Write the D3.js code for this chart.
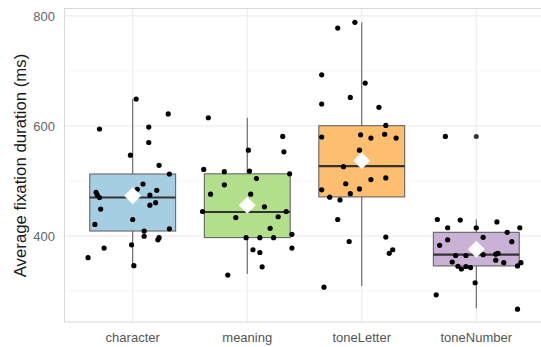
<!DOCTYPE html>
<html><head><meta charset="utf-8">
<script src="https://cdn.jsdelivr.net/npm/d3@7"></script>
<style>body{margin:0;background:#fff}svg{display:block}</style>
</head><body>
<svg id="c" width="541" height="347"></svg>
<script>
const categories = ["character","meaning","toneLetter","toneNumber"];
const fills = ["#a6cee3","#b2df8a","#fdbf6f","#cab2d6"];
// box statistics
const q1 = [409, 397, 471, 345.5];
const median = [470, 443.6, 527, 366];
const q3 = [512.7, 513, 600.5, 406.7];
const whiskLow = [346, 331, 309, 268.5];
const whiskHigh = [649, 615, 788.5, 430];
const means = [473, 456, 537, 376];
const outliers = [[], [], [], [581]];
const yTicks = [400, 600, 800];
const yMinor = [300, 500, 700];
// jittered points: [offset in category units, value]
const ptsCharacter = [[0.03,649],[0.31,622],[-0.29,594.5],[0.14,598],[0.14,570],[-0.02,547],[0.23,528.5],[0.32,512.7],[0.09,494.5],[0.04,485],[0.21,483],[-0.32,479.5],[-0.31,475],[-0.29,470],[0.15,474.5],[0.20,460.6],[0.15,456],[-0.28,449],[0.00,430],[-0.33,421],[0.32,413],[0.10,409],[0.10,399.5],[0.23,397],[0.22,393],[-0.01,384],[-0.25,378],[-0.39,360.5],[0.01,346]];
const ptsMeaning = [[-0.34,615],[0.31,581],[0.01,556],[0.32,553],[-0.38,521],[-0.20,517],[0.02,518],[0.37,513],[0.08,504.5],[-0.20,493],[-0.32,476],[0.03,476],[0.15,453],[-0.39,444.5],[0.34,444.5],[-0.10,433.5],[0.27,435],[0.20,414],[-0.01,397],[0.11,397],[0.23,397],[0.39,403],[0.05,375],[0.11,370],[0.39,378],[0.13,344],[-0.17,329]];
const ptsToneLetter = [[-0.06,788.5],[-0.21,778],[-0.35,693],[0.03,678],[-0.10,652],[-0.35,640],[0.15,634],[0.21,601],[-0.35,580],[-0.01,584],[0.08,578],[0.20,585],[0.30,578],[-0.02,556],[-0.16,526],[-0.14,495],[0.08,502.5],[0.21,505.5],[-0.35,484],[-0.02,485.5],[-0.10,477],[-0.28,470.5],[-0.19,465.5],[-0.21,430],[-0.11,390],[0.21,398],[0.24,368.5],[0.27,375],[-0.33,307]];
const ptsToneNumber = [[-0.34,430],[-0.14,429],[0.18,425.5],[-0.25,415],[0.00,415],[0.38,415],[0.27,406.7],[0.06,397.5],[-0.25,393],[0.31,389.6],[-0.32,383],[-0.18,364.5],[-0.09,364.5],[0.06,366],[0.17,367],[0.19,368.5],[0.17,356],[-0.21,352.7],[0.24,351.5],[-0.16,345],[-0.13,340],[-0.09,344.5],[-0.05,342.5],[0.39,351.5],[0.36,345.5],[-0.01,315],[-0.35,293],[0.36,267],[-0.27,581]];
const points = [ptsCharacter, ptsMeaning, ptsToneLetter, ptsToneNumber];

const svg = d3.select("#c");
const L = 64, T = 8, B = 322, R = 545;
const x = d3.scaleLinear().domain([-0.6, 3.6]).range([L, R]);
const y = d3.scaleLinear().domain([243.6, 814.5]).range([B, T]);
const font = "'Liberation Sans', Arial, Helvetica, sans-serif";

const g = svg.append("g");
// grid
g.selectAll(".minor").data(yMinor).join("line")
  .attr("x1", L).attr("x2", R).attr("y1", d => y(d)).attr("y2", d => y(d))
  .attr("stroke", "#f2f2f2").attr("stroke-width", 0.8);
g.selectAll(".major").data(yTicks).join("line")
  .attr("x1", L).attr("x2", R).attr("y1", d => y(d)).attr("y2", d => y(d))
  .attr("stroke", "#ebebeb").attr("stroke-width", 1);
g.selectAll(".vmajor").data(categories).join("line")
  .attr("x1", (d,i) => x(i)).attr("x2", (d,i) => x(i)).attr("y1", T).attr("y2", B)
  .attr("stroke", "#ebebeb").attr("stroke-width", 1);
// panel border
g.append("rect").attr("x", L + 0.5).attr("y", T + 0.5).attr("width", R - L).attr("height", B - T - 0.5)
  .attr("fill", "none").attr("stroke", "#d9d9d9").attr("stroke-width", 1);

const bw = 0.375;
const boxes = categories.map((c, i) => ({i, c}));
// whiskers
g.selectAll(".wh").data(boxes).join("line")
  .attr("x1", d => x(d.i)).attr("x2", d => x(d.i))
  .attr("y1", d => y(whiskHigh[d.i])).attr("y2", d => y(whiskLow[d.i]))
  .attr("stroke", "#555").attr("stroke-width", 1);
g.selectAll(".box").data(boxes).join("rect")
  .attr("x", d => x(d.i - bw)).attr("width", d => x(d.i + bw) - x(d.i - bw))
  .attr("y", d => y(q3[d.i])).attr("height", d => y(q1[d.i]) - y(q3[d.i]))
  .attr("fill", d => fills[d.i]).attr("stroke", "#595959").attr("stroke-width", 1);
g.selectAll(".med").data(boxes).join("line")
  .attr("x1", d => x(d.i - bw)).attr("x2", d => x(d.i + bw))
  .attr("y1", d => y(median[d.i])).attr("y2", d => y(median[d.i]))
  .attr("stroke", "#333").attr("stroke-width", 2.2);
// outliers
boxes.forEach(b => {
  g.selectAll(null).data(outliers[b.i]).join("circle")
    .attr("cx", x(b.i)).attr("cy", d => y(d)).attr("r", 2.5).attr("fill", "#333");
});
// points
points.forEach((arr, i) => {
  g.selectAll(null).data(arr).join("circle")
    .attr("cx", d => x(i + d[0])).attr("cy", d => y(d[1])).attr("r", 2.6).attr("fill", "#000");
});
// mean diamonds
g.selectAll(".mean").data(boxes).join("path")
  .attr("d", d => { const cx = x(d.i), cy = y(means[d.i]), s = 8.5;
    return `M${cx},${cy - s}L${cx + s},${cy}L${cx},${cy + s}L${cx - s},${cy}Z`; })
  .attr("fill", "#fff");

// axes labels
svg.selectAll(".yl").data(yTicks).join("text")
  .attr("x", 55).attr("y", d => y(d)).attr("dy", "0.35em").attr("text-anchor", "end")
  .attr("font-family", font).attr("font-size", 13).attr("fill", "#666").text(d => d);
svg.selectAll(".xl").data(categories).join("text")
  .attr("x", (d,i) => x(i)).attr("y", 342).attr("text-anchor", "middle")
  .attr("font-family", font).attr("font-size", 13).attr("fill", "#555").text(d => d);
svg.append("text").attr("transform", "translate(26,165.5) rotate(-90)")
  .attr("text-anchor", "middle").attr("font-family", font).attr("font-size", 16.8)
  .attr("fill", "#1a1a1a").text("Average fixation duration (ms)");
</script>
</body></html>
